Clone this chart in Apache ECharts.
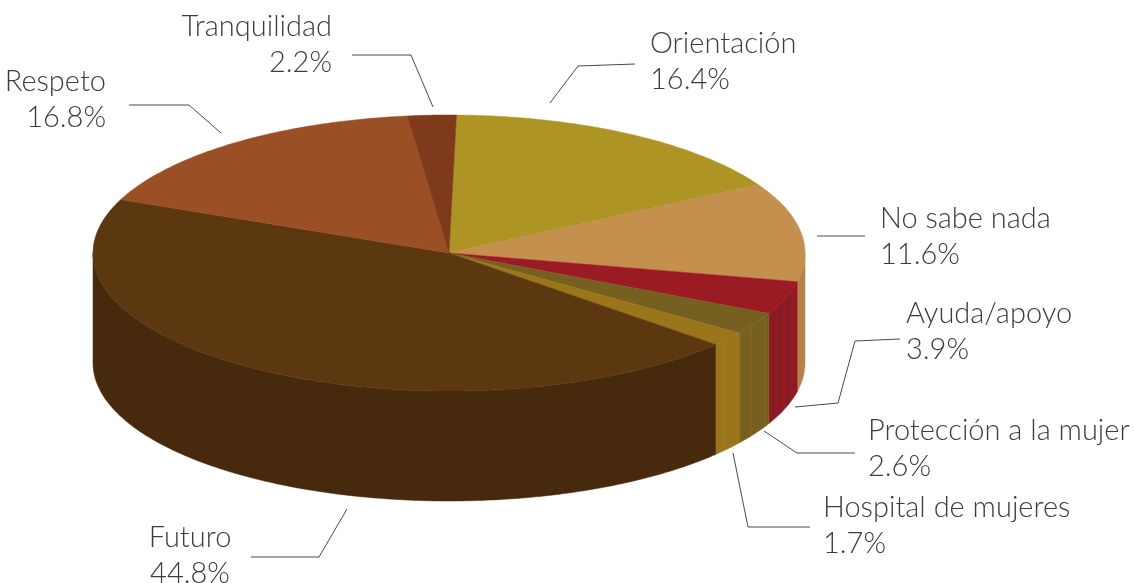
<!DOCTYPE html>
<html><head><meta charset="utf-8">
<style>html,body{margin:0;padding:0;background:#fff}#c{width:1134px;height:583px}</style>
<script src="https://cdn.jsdelivr.net/npm/echarts@6/dist/echarts.min.js"></script>
</head><body><div id="c"></div>
<script>
const categories = ['Orientación','No sabe nada','Ayuda/apoyo','Protección a la mujer','Hospital de mujeres','Futuro','Respeto','Tranquilidad'];
const values = [16.4,11.6,3.9,2.6,1.7,44.8,16.8,2.2];
const topColors = ['#ae9424','#c58f4e','#9a1b24','#75601f','#9a7519','#5c3811','#9a4f24','#7f3a1b'];
const sideColors = ['#9c8420','#b5834a','#8e1a22','#75601f','#9a7519','#47290d','#8a4620','#6f3318'];
// facet seams on the wall, as a fraction of each slice's sweep (style only)
const seamFractions = [[],[],[0.4,0.7],[0.15,0.65],[0.68],[],[],[]];
const seamColors = ['#000','#000','#7e1a20','#8c6a2c','#a5842a','#000','#000','#000'];
// label and leader-line placement (page layout only, not data)
const labelX = [650,880,906,868,823,190,106,332];
const labelY = [62,237,332,449,526,556,100,45];
const labelAlign = ['left','left','left','left','left','center','right','right'];
const leaders = [
 [[635,64],[578,66],[550,103]],
 [[865,236],[817,236]],
 [[900,339],[855,341],[838,403],[795,407]],
 [[855,453],[797,453],[764,431]],
 [[810,527],[748,527],[733,453]],
 [[251,557],[319,557],[347,509]],
 [[129,105],[189,105],[221,133]],
 [[352,55],[411,55],[433,107]]
];
const pie = {cx:449, cy:253, rx:356, ry:138, depth:110, start:1.2};

const total = values.reduce((a,b)=>a+b,0);
function pt(deg, dy){
  const r = deg*Math.PI/180;
  return [pie.cx+pie.rx*Math.sin(r), pie.cy-pie.ry*Math.cos(r)+(dy||0)];
}
function arc(a,b,dy){
  const n = Math.max(2,Math.ceil(Math.abs(b-a)/0.75)), out=[];
  for(let i=0;i<=n;i++) out.push(pt(a+(b-a)*i/n,dy));
  return out;
}
const chart = echarts.init(document.getElementById('c'),null,{renderer:'canvas'});
chart.setOption({
  animation:false,
  backgroundColor:'#fff',
  series:[{
    type:'custom',
    coordinateSystem:'none',
    silent:true,
    data:values.map((v,i)=>({name:categories[i],value:[v]})),
    renderItem:function(params,api){
      const i = params.dataIndex;
      let before = 0;
      for(let k=0;k<i;k++) before += values[k];
      const a0 = pie.start+before/total*360;
      const a1 = a0+api.value(0)/total*360;
      const children = [];
      const w0 = Math.max(a0,90), w1 = Math.min(a1,270);
      if(w1>w0){
        const pts = arc(w0,w1,0).concat(arc(w1,w0,pie.depth));
        children.push({type:'polygon',shape:{points:pts},
          style:{fill:sideColors[i],stroke:sideColors[i],lineWidth:0.5}});
        seamFractions[i].forEach(function(f){
          const a = a0+(a1-a0)*f;
          children.push({type:'polyline',shape:{points:[pt(a,0),pt(a,pie.depth)]},
            style:{fill:null,stroke:seamColors[i],lineWidth:1}});
        });
      }
      children.push({type:'polygon',shape:{points:[[pie.cx,pie.cy]].concat(arc(a0,a1,0))},
        style:{fill:topColors[i],stroke:topColors[i],lineWidth:0.5}});
      children.push({type:'polyline',shape:{points:leaders[i]},
        style:{fill:null,stroke:'#4a4a4a',lineWidth:1}});
      children.push({type:'text',style:{
        text:categories[i]+'\n'+api.value(0).toFixed(1)+'%',
        x:labelX[i],y:labelY[i],align:labelAlign[i],verticalAlign:'middle',
        fill:'#3c3c3c',fontFamily:'Lato',fontWeight:300,fontSize:29,lineHeight:36}});
      return {type:'group',children:children};
    }
  }]
});
</script></body></html>
